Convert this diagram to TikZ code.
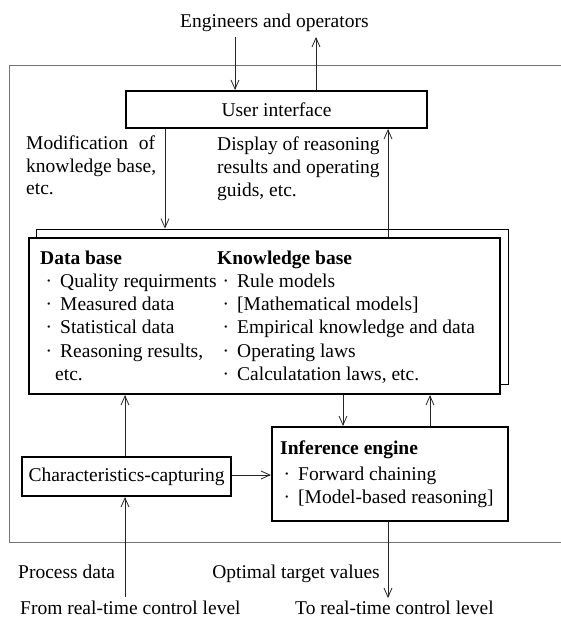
\documentclass[tikz,border=0pt]{standalone}
\usepackage{fontspec}
\setmainfont{Liberation Serif}
\usetikzlibrary{arrows.meta}
\newcommand{\itm}[1]{\llap{·\hspace{8pt}}#1}
\begin{document}
\begin{tikzpicture}[x=1pt,y=-1pt,
  every node/.style={font=\fontsize{19.5}{23}\selectfont},
  thickbox/.style={draw=black,line width=2.2pt,fill=white,inner sep=0pt},
  thinbox/.style={draw=black,line width=0.8pt,inner sep=0pt},
  frame/.style={draw=black!55,line width=0.9pt},
  txt/.style={inner sep=0pt,anchor=base west},
  arr/.style={draw=black!85,line width=0.8pt,-{Straight Barb[length=9pt,width=8pt]}}
]
\useasboundingbox (0,0) rectangle (561,622);
% outer frame
\draw[frame] (561,65) -- (9,65) -- (9,542) -- (561,542);
% boxes
\node[thickbox,minimum width=301pt,minimum height=37pt] (ui) at (276.5,109.5) {User interface};
\node[thinbox,minimum width=472pt,minimum height=155pt] (thin) at (272,306.5) {};
\node[thickbox,minimum width=471pt,minimum height=156pt] (kb) at (264.5,316) {};
\node[thickbox,minimum width=209pt,minimum height=39pt] (cc) at (126.5,476.5) {Characteristics-capturing};
\node[thickbox,minimum width=236pt,minimum height=94pt] (ie) at (390,474) {};
% top texts
\node[txt] (eng) at (180,27) {Engineers and operators};
\node[txt] (mod1) at (26,149) {\makebox[129pt][s]{Modification of}};
\node[txt] (mod2) at (26,172) {knowledge base,};
\node[txt] (mod3) at (26,194.5) {etc.};
\node[txt] (dis1) at (217,150.5) {Display of reasoning};
\node[txt] (dis2) at (217,173) {results and operating};
\node[txt] (dis3) at (217,196) {guids, etc.};
% data base column
\node[txt] (db) at (40,264) {\textbf{Data base}};
\node[txt] (db1) at (60,287) {\itm{Quality requirments}};
\node[txt] (db2) at (60,310.5) {\itm{Measured data}};
\node[txt] (db3) at (60,333.5) {\itm{Statistical data}};
\node[txt] (db4) at (60,357) {\itm{Reasoning results,}};
\node[txt] (db5) at (55,380) {etc.};
% knowledge base column
\node[txt] (kbt) at (217,264) {\textbf{Knowledge base}};
\node[txt] (kb1) at (237,287) {\itm{Rule models}};
\node[txt] (kb2) at (237,310.5) {\itm{[Mathematical models]}};
\node[txt] (kb3) at (237,333.5) {\itm{Empirical knowledge and data}};
\node[txt] (kb4) at (237,357) {\itm{Operating laws}};
\node[txt] (kb5) at (237,380) {\itm{Calculatation laws, etc.}};
% inference engine
\node[txt] (iet) at (280,454) {\textbf{Inference engine}};
\node[txt] (ie1) at (298,480) {\itm{Forward chaining}};
\node[txt] (ie2) at (298,503) {\itm{[Model-based reasoning]}};
% bottom texts
\node[txt] (pd) at (18,578) {Process data};
\node[inner sep=0pt,anchor=base east] (otv) at (380,578) {Optimal target values};
\node[txt] (from) at (20,614) {From real-time control level};
\node[txt] (to) at (295,614) {To real-time control level};
% connector coordinates
\coordinate (ca) at (235,37);
\coordinate (cb) at (316,37);
\coordinate (cm) at (165,0);
\coordinate (cd) at (388,0);
\coordinate (cu) at (125,0);
\coordinate (cdn) at (343,0);
\coordinate (cup) at (430,0);
\coordinate (cin) at (125,597);
\coordinate (cout) at (388,598);
% connectors
\draw[arr] (ca) -- (ca |- ui.north);
\draw[arr] (cb |- ui.north) -- (cb);
\draw[arr] (cm |- ui.south) -- (cm |- thin.north);
\draw[arr] (cd |- kb.north) -- (cd |- ui.south);
\draw[arr] (cu |- cc.north) -- (cu |- kb.south);
\draw[arr] (cdn |- kb.south) -- (cdn |- ie.north);
\draw[arr] (cup |- ie.north) -- (cup |- kb.south);
\draw[arr] (cc.east |- 0,475) -- (ie.west |- 0,475);
\draw[arr] (cin) -- (cu |- cc.south);
\draw[arr] (cout |- ie.south) -- (cout);
\end{tikzpicture}
\end{document}
